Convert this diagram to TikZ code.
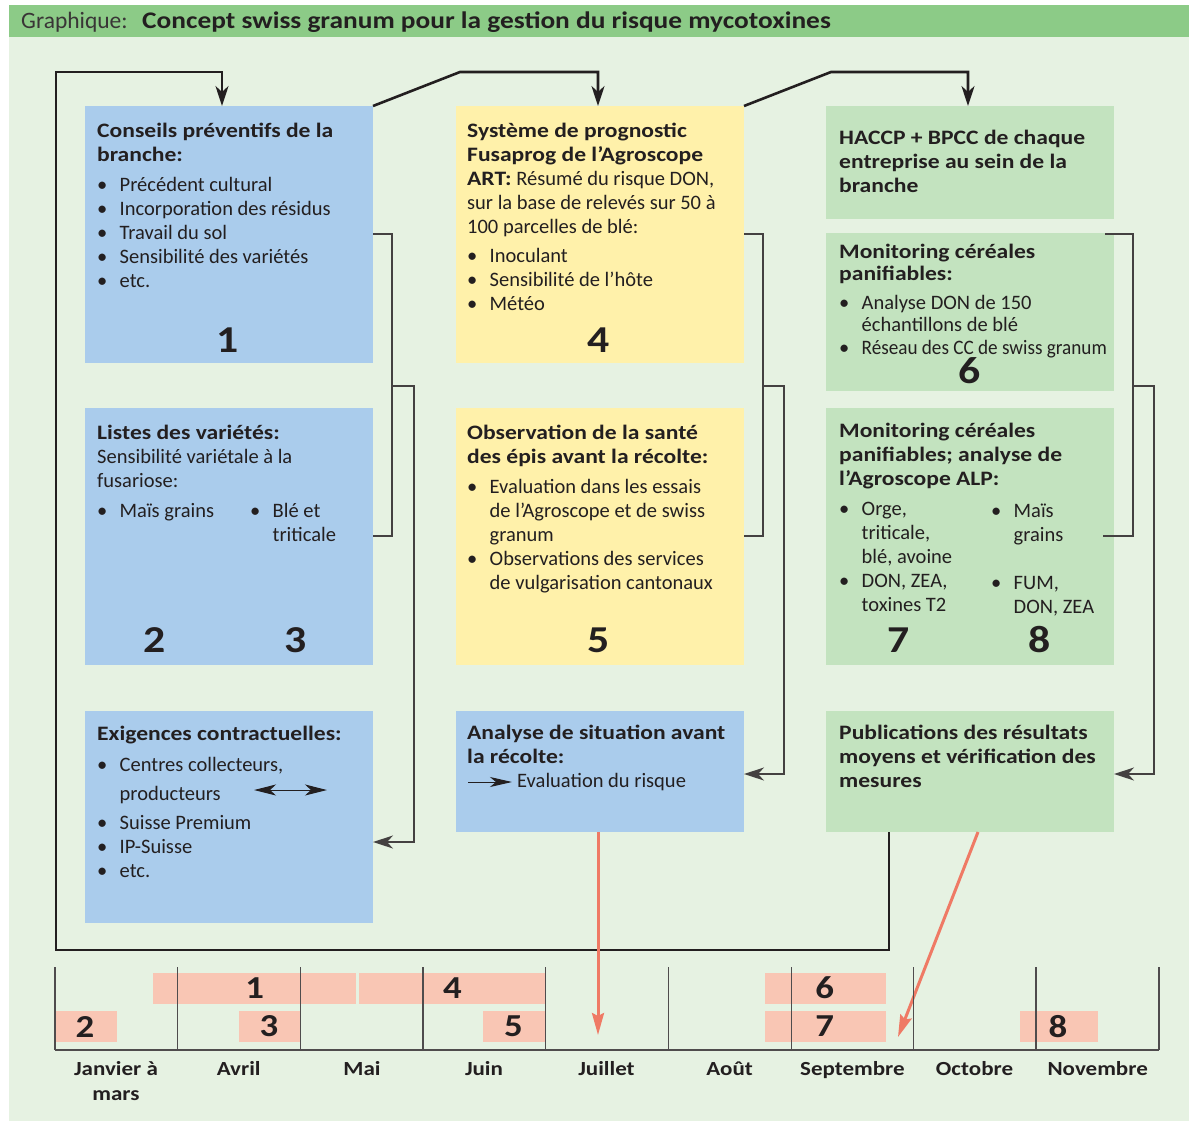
\documentclass[tikz,border=0pt]{standalone}
\usepackage{fontspec}
\setmainfont{Carlito}[BoldFeatures={FakeStretch=1.15}]
\usetikzlibrary{arrows.meta}
\definecolor{hdrc}{HTML}{8CCB87}
\definecolor{bgc}{HTML}{E6F2E2}
\definecolor{bblue}{HTML}{AACCEC}
\definecolor{byel}{HTML}{FFF1AA}
\definecolor{bgrn}{HTML}{C3E3BF}
\definecolor{barc}{HTML}{F9C6B4}
\definecolor{redar}{HTML}{EF7A65}
\definecolor{ink}{HTML}{231F20}
\newcommand\itm{\makebox[22.5pt][l]{\textbullet}}
\newcommand\ind{\hspace*{22.5pt}}
\newcommand\fs{\rule{0pt}{16pt}}
\newcommand\fm{\rule{0pt}{15pt}}
\begin{document}
\begin{tikzpicture}[x=1pt,y=-1pt,
 box/.style={anchor=north west, inner sep=0, outer sep=0, draw=none},
 txt/.style={anchor=north west, inner sep=0, align=left, text=ink, font=\fontsize{20.5}{24}\selectfont},
 bignum/.style={inner sep=0, text=ink, font=\fontsize{38}{38}\selectfont\bfseries},
 barnum/.style={inner sep=0, text=ink, font=\fontsize{32}{32}\selectfont\bfseries},
 mlab/.style={anchor=north, inner sep=0, align=center, text=ink, font=\fontsize{20}{25}\selectfont\bfseries},
 loopline/.style={draw=ink, line width=2.6pt},
 brk/.style={draw=ink!85, line width=1.5pt},
 tip/.style={-{Stealth[length=20pt,width=13pt,inset=6pt]}},
 redarrow/.style={draw=redar, line width=3pt, -{Stealth[length=22pt,width=12pt,inset=3pt]}},
 tick/.style={draw=ink!80, line width=1.4pt}
]
\useasboundingbox (0,0) rectangle (1189,1125);
\fill[white] (0,0) rectangle (1189,1125);
\fill[bgc] (9,5) rectangle (1189,1121);
\fill[hdrc] (9,5) rectangle (1189,37);

% header
\node[anchor=base west, inner sep=0, text=ink!90, font=\fontsize{23.5}{23.5}\selectfont] (hg) at (21,28) {Graphique:};
\node[anchor=base west, inner sep=0, text=ink, font=\fontsize{23.8}{23.8}\selectfont\bfseries] (ht) at (142,28) {Concept swiss granum pour la gestion du risque mycotoxines};

% boxes
\node[box, fill=bblue, minimum width=288pt, minimum height=257pt] (b1) at (85,106) {};
\node[box, fill=bblue, minimum width=288pt, minimum height=257pt] (b23) at (85,408) {};
\node[box, fill=bblue, minimum width=288pt, minimum height=212pt] (bex) at (85,711) {};
\node[box, fill=byel, minimum width=288pt, minimum height=257pt] (b4) at (456,106) {};
\node[box, fill=byel, minimum width=288pt, minimum height=257pt] (b5) at (456,408) {};
\node[box, fill=bblue, minimum width=288pt, minimum height=121pt] (ban) at (456,711) {};
\node[box, fill=bgrn, minimum width=288pt, minimum height=113pt] (bh) at (826,106) {};
\node[box, fill=bgrn, minimum width=288pt, minimum height=158pt] (b6) at (826,233) {};
\node[box, fill=bgrn, minimum width=288pt, minimum height=257pt] (b78) at (826,408) {};
\node[box, fill=bgrn, minimum width=288pt, minimum height=121pt] (bpub) at (826,711) {};

% texts
\node[txt] (t1) at (97,121) {\fs\textbf{Conseils préventifs de la}\\ \textbf{branche:}\\[6pt] \itm Précédent cultural\\ \itm Incorporation des résidus\\ \itm Travail du sol\\ \itm Sensibilité des variétés\\ \itm etc.};
\node[txt] (t4) at (467,121) {\fs\textbf{Système de prognostic}\\ \textbf{Fusaprog de l'Agroscope}\\ \textbf{ART:} Résumé du risque DON,\\ sur la base de relevés sur 50 à\\ 100 parcelles de blé:\\[5pt] \itm Inoculant\\ \itm Sensibilité de l'hôte\\ \itm Météo};
\node[txt] (th) at (839,128) {\fs\textbf{HACCP + BPCC de chaque}\\ \textbf{entreprise au sein de la}\\ \textbf{branche}};
\node[txt, font=\fontsize{20.5}{22.5}\selectfont] (t6) at (839,242) {\fs\textbf{Monitoring céréales}\\ \textbf{panifiables:}\\[6pt] \itm Analyse DON de 150\\ \ind échantillons de blé\\ \itm \scalebox{0.935}[1]{Réseau des CC de swiss granum}};
\node[txt] (t23) at (97,423) {\fs\textbf{Listes des variétés:}\\ Sensibilité variétale à la\\ fusariose:\\[6pt] \itm Maïs grains};
\node[txt] (t23b) at (250,501) {\fs\itm Blé et\\ \ind triticale};
\node[txt] (t5) at (467,423) {\fs\textbf{Observation de la santé}\\ \textbf{des épis avant la récolte:}\\[6pt] \itm Evaluation dans les essais\\ \ind de l'Agroscope et de swiss\\ \ind granum\\ \itm Observations des services\\ \ind de vulgarisation cantonaux};
\node[txt] (t78) at (839,421) {\fs\textbf{Monitoring céréales}\\ \textbf{panifiables; analyse de}\\ \textbf{l'Agroscope ALP:}\\[6pt] \itm Orge,\\ \ind triticale,\\ \ind blé, avoine\\ \itm DON, ZEA,\\ \ind toxines T2};
\node[txt] (t78b) at (991,501) {\fs\itm Maïs\\ \ind grains\\[24pt] \itm FUM,\\ \ind DON, ZEA};
\node[txt] (tex) at (97,724) {\fs\textbf{Exigences contractuelles:}\\[7pt] \itm Centres collecteurs,\\[5pt] \ind producteurs\\[5pt] \itm Suisse Premium\\ \itm IP-Suisse\\ \itm etc.};
\node[txt] (tan) at (467,723) {\fs\textbf{Analyse de situation avant}\\ \textbf{la récolte:}\\ \hspace*{50pt}Evaluation du risque};
\node[txt] (tpub) at (839,723) {\fs\textbf{Publications des résultats}\\ \textbf{moyens et vérification des}\\ \textbf{mesures}};

% big numbers
\node[bignum] (n1) at (228,340) {1};
\node[bignum] (n4) at (599,340) {4};
\node[bignum] (n6) at (970,371) {6};
\node[bignum] (n2) at (155,640) {2};
\node[bignum] (n3) at (296,640) {3};
\node[bignum] (n5) at (599,640) {5};
\node[bignum] (n7) at (899,640) {7};
\node[bignum] (n8) at (1040,640) {8};

% inner arrows
\coordinate (da) at (254,790);
\coordinate (db) at (327,790);
\draw[draw=ink, line width=1pt, {Stealth[length=22pt,width=11pt,inset=6pt]}-{Stealth[length=22pt,width=11pt,inset=6pt]}] (da) -- (db);
\coordinate (ea) at (468,782);
\coordinate (eb) at (512,782);
\draw[draw=ink, line width=1pt, -{Stealth[length=22pt,width=10pt,inset=6pt]}] (ea) -- (eb);

% big loop and top connectors
\draw[loopline, tip] ([xshift=63pt]bpub.south west) -- ++(0,118) -| (56,72) -| ([xshift=137pt]b1.north west);
\draw[loopline, tip] (b1.north east) -- (460,72) -| ([xshift=142pt]b4.north west);
\draw[loopline, tip] (b4.north east) -- (831,72) -| ([xshift=142pt]bh.north west);

% brackets
\draw[brk] ([yshift=-128pt]b1.north east) -- ++(19,0) |- ([yshift=-128pt]b23.north east);
\coordinate (j1) at (392,386);
\draw[brk, tip] (j1) -- (414,386) |- ([yshift=-131pt]bex.north east);
\draw[brk] ([yshift=-128pt]b4.north east) -- ++(19,0) |- ([yshift=-128pt]b5.north east);
\coordinate (j2) at (763,386);
\draw[brk, tip] (j2) -- (784,386) |- ([yshift=-63pt]ban.north east);
\draw[brk] ([xshift=-9pt,yshift=-1pt]b6.north east) -- (1133,234) |- ([xshift=-11pt,yshift=-128pt]b78.north east);
\coordinate (j3) at (1133,386);
\draw[brk, tip] (j3) -- (1154,386) |- ([yshift=-63pt]bpub.north east);

% red arrows
\coordinate (r1) at (598,1035);
\coordinate (r2) at (898,1037);
\draw[redarrow] ([xshift=142pt]ban.south west) -- (r1);
\draw[redarrow] ([xshift=152pt]bpub.south west) -- (r2);

% timeline bars
\fill[barc] (153,973) rectangle (356,1004);
\fill[barc] (359,973) rectangle (545.7,1004);
\fill[barc] (55,1011) rectangle (117,1042);
\fill[barc] (239,1011) rectangle (300.4,1042);
\fill[barc] (483,1011) rectangle (545.7,1042);
\fill[barc] (765,973) rectangle (886,1004);
\fill[barc] (765,1011) rectangle (886,1042);
\fill[barc] (1020,1011) rectangle (1098,1042);
\foreach \x in {55,177.7,300.4,423,545.7,668.4,791.2,913.7,1036,1159}
  \draw[tick] (\x,967) -- (\x,1050);
\draw[tick] (55,1050) -- (1159,1050);

\node[barnum] (p1) at (254.6,988) {1};
\node[barnum] (p4) at (452.5,988) {4};
\node[barnum] (p2) at (85,1026.5) {2};
\node[barnum] (p3) at (269,1026.5) {3};
\node[barnum] (p5) at (513.5,1026.5) {5};
\node[barnum] (p6) at (824.6,988) {6};
\node[barnum] (p7) at (824.6,1026.5) {7};
\node[barnum] (p8) at (1058,1026.5) {8};

% months
\node[mlab] (m1) at (116,1060) {\fm Janvier à\\ mars};
\node[mlab] (m2) at (238.7,1060) {\fm Avril};
\node[mlab] (m3) at (362,1060) {\fm Mai};
\node[mlab] (m4) at (484,1060) {\fm Juin};
\node[mlab] (m5) at (606.5,1060) {\fm Juillet};
\node[mlab] (m6) at (729.6,1060) {\fm Août};
\node[mlab] (m7) at (852.4,1060) {\fm Septembre};
\node[mlab] (m8) at (974.5,1060) {\fm Octobre};
\node[mlab] (m9) at (1097.7,1060) {\fm Novembre};
\end{tikzpicture}
\end{document}
